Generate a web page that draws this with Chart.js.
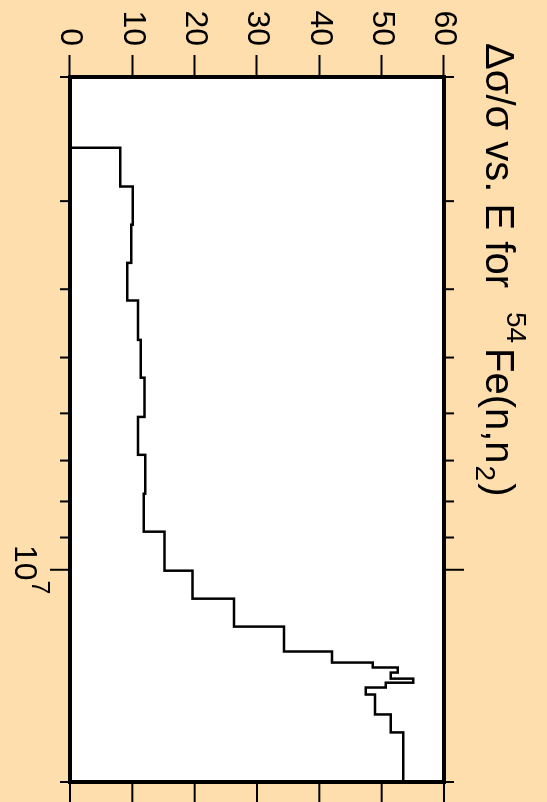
<!DOCTYPE html>
<html>
<head>
<meta charset="utf-8">
<script src="https://cdn.jsdelivr.net/npm/chart.js@4.4.1/dist/chart.umd.min.js"></script>
<style>
  html, body { margin: 0; padding: 0; background: #FFDEAD; overflow: hidden; width: 547px; height: 802px; }
  #wrap { position: absolute; left: 0; top: 0; width: 802px; height: 547px;
          transform-origin: 0 0; transform: translate(547px, 0) rotate(90deg); }
</style>
</head>
<body>
<div id="wrap"><canvas id="c" width="802" height="547"></canvas></div>
<script>
// ---- data (energy bin edges in eV, relative uncertainty in %) ----
const energyEdges = [2.52e6, 2.86e6, 3.24e6, 3.67e6, 4.15e6, 4.72e6, 5.34e6, 6.07e6, 6.87e6, 7.80e6,
                     8.83e6, 1.003e7, 1.099e7, 1.204e7, 1.306e7, 1.354e7, 1.376e7, 1.399e7, 1.427e7,
                     1.446e7, 1.469e7, 1.503e7, 1.604e7, 1.701e7, 2.0e7];
const uncertainty = [8.05, 10.08, 9.81, 9.17, 10.89, 11.37, 11.94, 10.89, 12.06, 11.85,
                     15.15, 19.64, 26.33, 34.35, 42.04, 48.56, 52.57, 51.45, 55.07, 50.65,
                     47.44, 48.93, 51.45, 53.47];
const startValue = 0;
const valueTicks = [0, 10, 20, 30, 40, 50, 60];
const energyMinorTicks = [2e6, 3e6, 4e6, 5e6, 6e6, 7e6, 8e6, 9e6, 2e7];
const energyMajorTicks = [1e7];
const energyLabelBases = ['10'];
const energyLabelExps = ['7'];
const titleMain = 'Δσ/σ vs. E for';
const titleMass = '54';
const titleReaction = 'Fe(n,n';
const titleSub = '2';
const titleEnd = ')';

const points = [{ x: energyEdges[0], y: startValue }];
uncertainty.forEach((v, i) => points.push({ x: energyEdges[i + 1], y: v }));

const FONT = '"Liberation Sans", Arial, Helvetica, sans-serif';

const framePlugin = {
  id: 'frame',
  beforeDraw(chart) {
    const { ctx, chartArea: a } = chart;
    ctx.save();
    ctx.fillStyle = '#ffffff';
    ctx.fillRect(a.left, a.top, a.right - a.left, a.bottom - a.top);
    ctx.restore();
  },
  afterDraw(chart) {
    const { ctx, chartArea: a, scales } = chart;
    const xs = scales.x, ys = scales.y;
    ctx.save();
    ctx.strokeStyle = '#000';
    ctx.lineWidth = 2;
    ctx.lineCap = 'butt';
    const tick = (x1, y1, x2, y2) => { ctx.beginPath(); ctx.moveTo(x1, y1); ctx.lineTo(x2, y2); ctx.stroke(); };
    energyMinorTicks.forEach(v => {
      const px = xs.getPixelForValue(v);
      tick(px, a.bottom, px, a.bottom + 10);
      tick(px, a.top, px, a.top - 10);
    });
    energyMajorTicks.forEach(v => {
      const px = xs.getPixelForValue(v);
      tick(px, a.bottom, px, a.bottom + 20);
      tick(px, a.top, px, a.top - 20);
    });
    valueTicks.forEach(v => {
      const py = ys.getPixelForValue(v);
      tick(a.right, py, a.right + 22, py);
    });
    // frame
    ctx.lineWidth = 4;
    ctx.strokeRect(a.left, a.top, a.right - a.left, a.bottom - a.top);

    // energy tick labels (10^7)
    ctx.fillStyle = '#000';
    ctx.textBaseline = 'alphabetic';
    ctx.textAlign = 'left';
    energyMajorTicks.forEach((v, i) => {
      const px = xs.getPixelForValue(v);
      ctx.font = '32px ' + FONT;
      const wb = ctx.measureText(energyLabelBases[i]).width;
      ctx.font = '25px ' + FONT;
      const we = ctx.measureText(energyLabelExps[i]).width;
      const x0 = px - (wb + we) / 2;
      ctx.font = '32px ' + FONT;
      ctx.fillText(energyLabelBases[i], x0, 532);
      ctx.font = '25px ' + FONT;
      ctx.fillText(energyLabelExps[i], x0 + wb, 515);
    });

    // title
    ctx.font = '40px ' + FONT;
    ctx.fillText(titleMain, 43, 61);
    ctx.font = '28px ' + FONT;
    ctx.fillText(titleMass, 312, 40);
    let tx = 348;
    ctx.font = '40px ' + FONT;
    ctx.fillText(titleReaction, tx, 61);
    tx += ctx.measureText(titleReaction).width;
    ctx.font = '28px ' + FONT;
    ctx.fillText(titleSub, tx + 2, 71);
    tx += ctx.measureText(titleSub).width + 4;
    ctx.font = '40px ' + FONT;
    ctx.fillText(titleEnd, tx, 61);
    ctx.restore();
  }
};

new Chart(document.getElementById('c'), {
  type: 'line',
  data: {
    datasets: [{
      data: points,
      stepped: 'after',
      borderColor: '#000',
      borderWidth: 2.5,
      pointRadius: 0,
      fill: false
    }]
  },
  options: {
    responsive: false,
    animation: false,
    devicePixelRatio: 1,
    layout: { padding: { top: 103, right: 20, left: 0, bottom: 0 } },
    plugins: { legend: { display: false }, tooltip: { enabled: false }, title: { display: false } },
    scales: {
      x: {
        type: 'logarithmic',
        min: 2e6, max: 2e7,
        grid: { display: false },
        border: { display: false },
        ticks: { display: false },
        afterFit: s => { s.height = 70; }
      },
      y: {
        type: 'linear',
        min: 0, max: 60,
        afterBuildTicks: s => { s.ticks = valueTicks.map(v => ({ value: v })); },
        grid: { display: true, drawOnChartArea: false, drawTicks: true, tickLength: 22,
                tickWidth: 2, tickColor: '#000', color: '#000' },
        border: { display: false },
        ticks: { color: '#000', padding: 9, font: { family: FONT, size: 32 } },
        afterFit: s => { s.width = 77; }
      }
    }
  },
  plugins: [framePlugin]
});
</script>
</body>
</html>
